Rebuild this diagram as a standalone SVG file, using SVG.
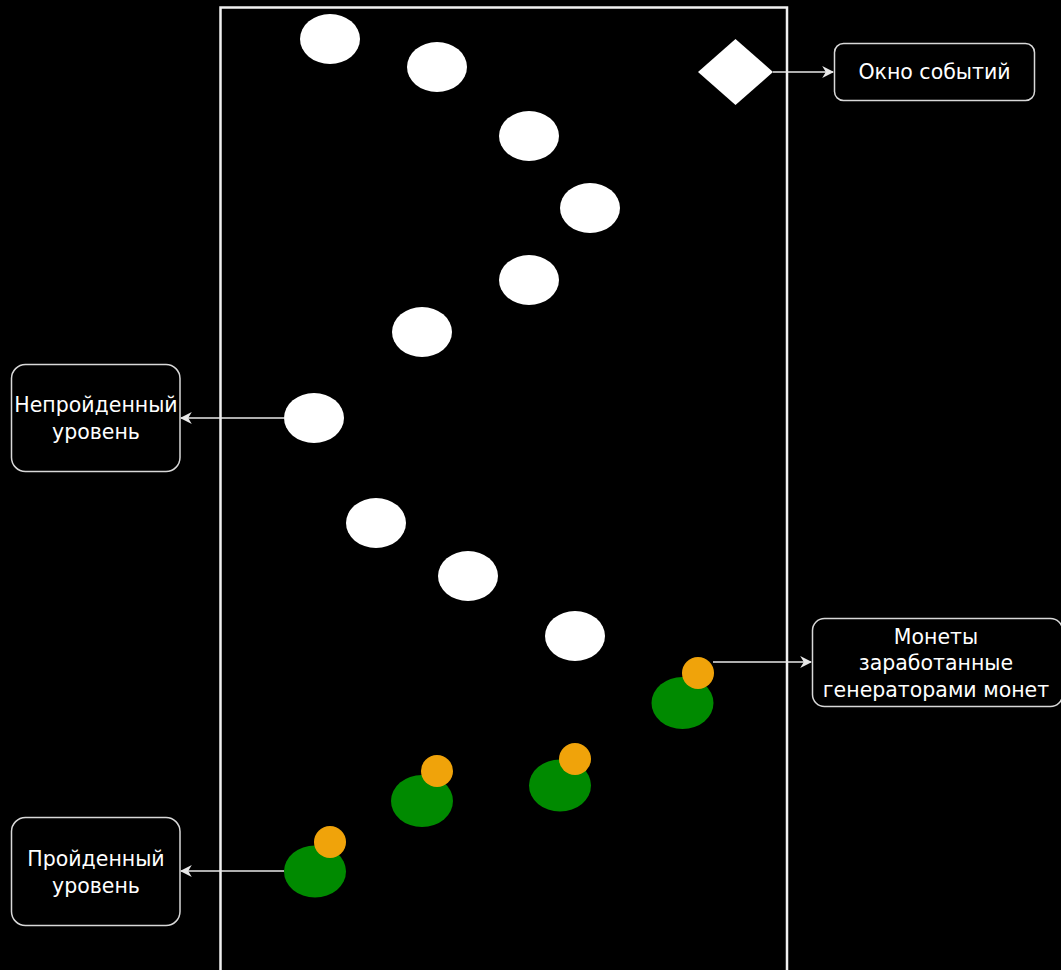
<svg xmlns="http://www.w3.org/2000/svg" width="1061" height="970" viewBox="0 0 1061 970">
<defs>
<style>
.lvl{fill:#ffffff;stroke:none}
.gen{fill:#008a00;stroke:none}
.coin{fill:#f0a30a;stroke:none}
.box{fill:#000000;stroke:#d8d8d8;stroke-width:1.5}
.lbl{fill:#ffffff;font-family:"DejaVu Sans",Verdana,sans-serif;font-size:20.5px;text-anchor:middle;dominant-baseline:central}
.conn{stroke:#e8e8e8;stroke-width:1.5;fill:none}
</style>
<marker id="arr" viewBox="0 0 10 10" refX="9" refY="5" markerWidth="12" markerHeight="12" markerUnits="userSpaceOnUse" orient="auto">
<path d="M0,0 L10,5 L0,10 L3,5 Z" fill="#e8e8e8"/>
</marker>
</defs>
<rect x="0" y="0" width="1061" height="970" fill="#000000"/>
<g id="field">
<rect x="220.5" y="7.5" width="566.5" height="1000" fill="none" stroke="#f0f0f0" stroke-width="2.5"/>
</g>
<g id="levels">
<ellipse class="lvl" cx="330" cy="39" rx="30" ry="25"/>
<ellipse class="lvl" cx="437" cy="67" rx="30" ry="25"/>
<ellipse class="lvl" cx="529" cy="136" rx="30" ry="25"/>
<ellipse class="lvl" cx="590" cy="208" rx="30" ry="25"/>
<ellipse class="lvl" cx="529" cy="280" rx="30" ry="25"/>
<ellipse class="lvl" cx="422" cy="332" rx="30" ry="25"/>
<ellipse class="lvl" cx="314" cy="418" rx="30" ry="25"/>
<ellipse class="lvl" cx="376" cy="523" rx="30" ry="25"/>
<ellipse class="lvl" cx="468" cy="576" rx="30" ry="25"/>
<ellipse class="lvl" cx="575" cy="636" rx="30" ry="25"/>
</g>
<g id="generators">
<ellipse class="gen" cx="682.5" cy="703" rx="31" ry="26"/>
<circle class="coin" cx="698" cy="673" r="16"/>
<ellipse class="gen" cx="422" cy="801" rx="31" ry="26"/>
<circle class="coin" cx="437" cy="771" r="16"/>
<ellipse class="gen" cx="560" cy="785.5" rx="31" ry="26"/>
<circle class="coin" cx="575" cy="759" r="16"/>
<ellipse class="gen" cx="315" cy="871.5" rx="31" ry="26"/>
<circle class="coin" cx="330" cy="842" r="16"/>
</g>
<g id="event">
<polygon points="735.5,39 773,72 735.5,105 698,72" fill="#ffffff"/>
</g>
<g id="connectors">
<line class="conn" x1="773" y1="72" x2="833" y2="72" marker-end="url(#arr)"/>
<line class="conn" x1="284" y1="418" x2="181" y2="418" marker-end="url(#arr)"/>
<line class="conn" x1="713" y1="662" x2="811" y2="662" marker-end="url(#arr)"/>
<line class="conn" x1="284" y1="871" x2="181" y2="871" marker-end="url(#arr)"/>
</g>
<g id="box-events">
<rect class="box" x="834.5" y="43.5" width="200" height="57" rx="9"/>
<text class="lbl" x="934.5" y="72">Окно событий</text>
</g>
<g id="box-unpassed">
<rect class="box" x="11.5" y="364.5" width="168.5" height="107" rx="14"/>
<text class="lbl" x="96" y="405">Непройденный</text>
<text class="lbl" x="96" y="432">уровень</text>
</g>
<g id="box-coins">
<rect class="box" x="812.5" y="618.5" width="250" height="88" rx="12"/>
<text class="lbl" x="936" y="637">Монеты</text>
<text class="lbl" x="936" y="663">заработанные</text>
<text class="lbl" x="936" y="690">генераторами монет</text>
</g>
<g id="box-passed">
<rect class="box" x="11.5" y="817.5" width="168.5" height="108" rx="14"/>
<text class="lbl" x="96" y="859">Пройденный</text>
<text class="lbl" x="96" y="886">уровень</text>
</g>
</svg>
